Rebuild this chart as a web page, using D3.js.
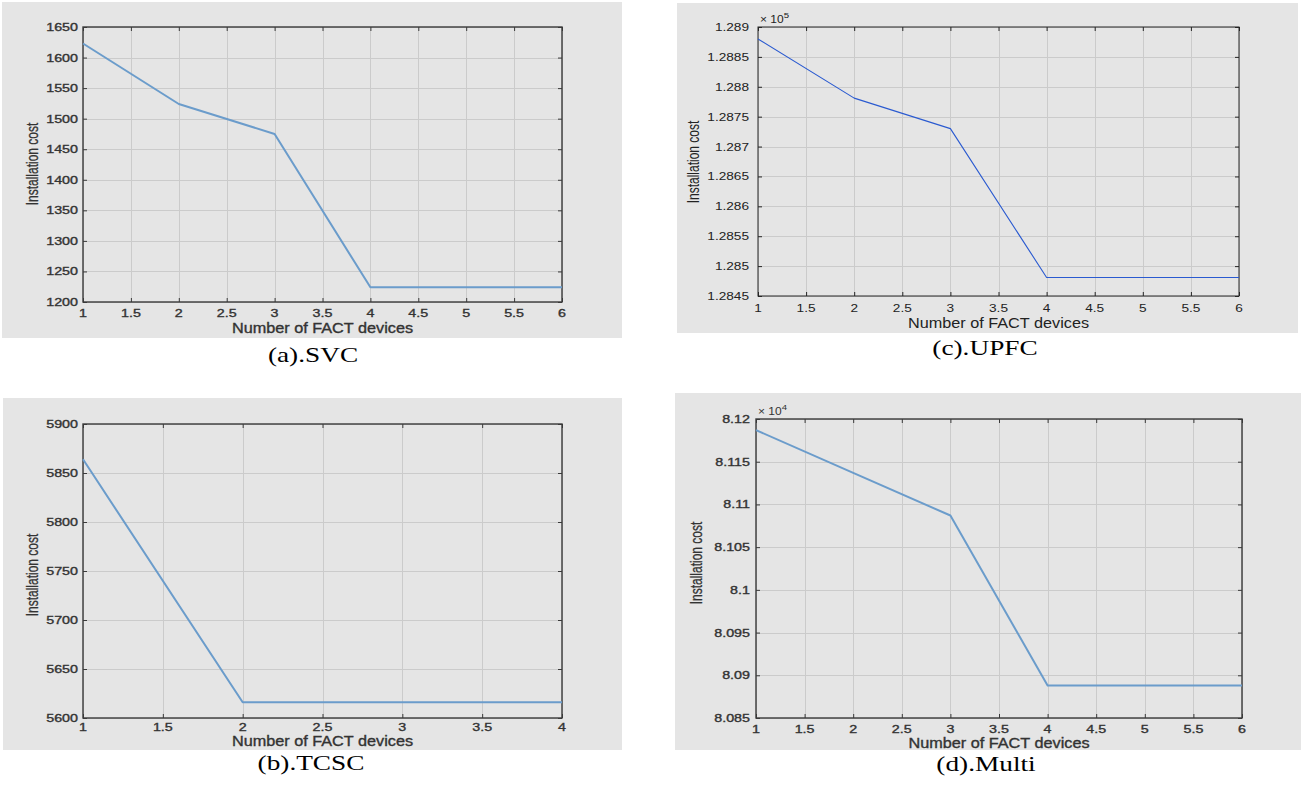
<!DOCTYPE html>
<html>
<head>
<meta charset="utf-8">
<script src="https://cdn.jsdelivr.net/npm/d3@7"></script>
<style>
  html, body { margin: 0; padding: 0; background: #ffffff; }
  svg { display: block; }
</style>
</head>
<body>
<svg id="chart" width="1302" height="791"></svg>
<script>
// ---------------- DATA ----------------
const devicesSix = [1, 2, 3, 4, 5, 6];
const devicesFour = [1, 2, 3, 4];

const svcCost   = [1623, 1524, 1475, 1224, 1224, 1224];
const tcscCost  = [5864, 5616, 5616, 5616];
const upfcCost  = [128880, 128781, 128730, 128481, 128481, 128481];
const multiCost = [81187, 81137, 81087, 80888, 80888, 80888];

const xTicksSix  = [1, 1.5, 2, 2.5, 3, 3.5, 4, 4.5, 5, 5.5, 6];
const xTicksFour = [1, 1.5, 2, 2.5, 3, 3.5, 4];

const svcYTicks   = [1200, 1250, 1300, 1350, 1400, 1450, 1500, 1550, 1600, 1650];
const tcscYTicks  = [5600, 5650, 5700, 5750, 5800, 5850, 5900];
const upfcYTickLabels  = ["1.2845", "1.285", "1.2855", "1.286", "1.2865", "1.287", "1.2875", "1.288", "1.2885", "1.289"];
const upfcYTicks  = [128450, 128500, 128550, 128600, 128650, 128700, 128750, 128800, 128850, 128900];
const multiYTickLabels = ["8.085", "8.09", "8.095", "8.1", "8.105", "8.11", "8.115", "8.12"];
const multiYTicks = [80850, 80900, 80950, 81000, 81050, 81100, 81150, 81200];

const captions = ["(a).SVC", "(b).TCSC", "(c).UPFC", "(d).Multi"];
const xTitle = "Number of FACT devices";
const yTitle = "Installation cost";

// ---------------- LAYOUT ----------------
const panels = [
  { x: devicesSix, y: svcCost, xTicks: xTicksSix, yTicks: svcYTicks, yLabels: svcYTicks.map(String),
    bg: [2, 2, 622, 338], plot: [83, 27, 562, 302], exp: null, caption: captions[0],
    capX: 313, capY: 362, yGap: 5, xLabY: 317, xTitleY: 333, yTitleX: 38, yTitleY: 164,
    lineColor: "#6b9ccb", lineW: 2, axisColor: "#3a3a3a", axisW: 1.4, textColor: "#333", crisp: false },
  { x: devicesFour, y: tcscCost, xTicks: xTicksFour, yTicks: tcscYTicks, yLabels: tcscYTicks.map(String),
    bg: [3, 398, 622, 750], plot: [83, 424, 562, 718], exp: null, caption: captions[1],
    capX: 311, capY: 770, yGap: 5, xLabY: 731, xTitleY: 746, yTitleX: 38, yTitleY: 575,
    lineColor: "#6b9ccb", lineW: 2, axisColor: "#3a3a3a", axisW: 1.4, textColor: "#333", crisp: false },
  { x: devicesSix, y: upfcCost, xTicks: xTicksSix, yTicks: upfcYTicks, yLabels: upfcYTickLabels,
    bg: [677, 3, 1298, 333], plot: [758, 27, 1239, 296], exp: "5", caption: captions[2],
    capX: 985, capY: 355, yGap: 9, xLabY: 312, xTitleY: 328, yTitleX: 699, yTitleY: 162,
    lineColor: "#2a5ad0", lineW: 1.1, axisColor: "#262626", axisW: 1, textColor: "#222", crisp: true },
  { x: devicesSix, y: multiCost, xTicks: xTicksSix, yTicks: multiYTicks, yLabels: multiYTickLabels,
    bg: [675, 393, 1301, 750], plot: [756, 419, 1242, 718], exp: "4", caption: captions[3],
    capX: 986, capY: 771, yGap: 6, xLabY: 733, xTitleY: 748, yTitleX: 702, yTitleY: 563,
    lineColor: "#6b9ccb", lineW: 2, axisColor: "#3a3a3a", axisW: 1.4, textColor: "#333", crisp: false }
];

const svg = d3.select("#chart");
const SANS = "'Liberation Sans', Arial, sans-serif";
const SERIF = "'Liberation Serif', 'Times New Roman', serif";

function stretchedText(g, x, y, str, opt) {
  const t = g.append("text")
    .attr("transform", `translate(${x},${y}) scale(${opt.sx || 1},1)` + (opt.rotate ? ` rotate(${opt.rotate})` : ""))
    .attr("text-anchor", opt.anchor || "start")
    .attr("font-family", opt.family || SANS)
    .attr("font-size", opt.size)
    .attr("fill", opt.fill || "#333")
    .text(str);
  if (opt.heavy) t.attr("stroke", opt.fill || "#333").attr("stroke-width", opt.heavy);
  return t;
}

panels.forEach(p => {
  const g = svg.append("g");
  const [bx0, by0, bx1, by1] = p.bg;
  const [L, T, R, B] = p.plot;

  g.append("rect").attr("x", bx0).attr("y", by0).attr("width", bx1 - bx0).attr("height", by1 - by0)
    .attr("fill", "#e5e5e5");

  const xs = d3.scaleLinear().domain([p.xTicks[0], p.xTicks[p.xTicks.length - 1]]).range([L, R]);
  const ys = d3.scaleLinear().domain([p.yTicks[0], p.yTicks[p.yTicks.length - 1]]).range([B, T]);

  // grid
  const grid = g.append("g").attr("stroke", "#cbcbcb").attr("stroke-width", 1);
  p.xTicks.forEach(v => {
    grid.append("line").attr("x1", Math.round(xs(v)) + 0.5).attr("x2", Math.round(xs(v)) + 0.5)
      .attr("y1", T).attr("y2", B);
  });
  p.yTicks.forEach(v => {
    grid.append("line").attr("y1", Math.round(ys(v)) + 0.5).attr("y2", Math.round(ys(v)) + 0.5)
      .attr("x1", L).attr("x2", R);
  });

  // axes via d3 (ticks inward on all four sides)
  const tl = 4;
  const axB = d3.axisBottom(xs).tickValues(p.xTicks).tickSize(-tl).tickFormat("");
  const axT = d3.axisTop(xs).tickValues(p.xTicks).tickSize(-tl).tickFormat("");
  const axL = d3.axisLeft(ys).tickValues(p.yTicks).tickSize(-tl).tickFormat("");
  const axR = d3.axisRight(ys).tickValues(p.yTicks).tickSize(-tl).tickFormat("");
  [[axB, `translate(0,${B})`], [axT, `translate(0,${T})`], [axL, `translate(${L},0)`], [axR, `translate(${R},0)`]]
    .forEach(([ax, tr]) => {
      const a = g.append("g").attr("transform", tr).call(ax);
      a.select(".domain").remove();
      a.selectAll("line").attr("stroke", p.axisColor).attr("stroke-width", 1);
    });

  // box
  g.append("rect").attr("x", L).attr("y", T).attr("width", R - L).attr("height", B - T)
    .attr("fill", "none").attr("stroke", p.axisColor).attr("stroke-width", p.axisW);

  // line
  const line = d3.line().x((d, i) => xs(p.x[i])).y(d => ys(d));
  g.append("path").datum(p.y).attr("d", line).attr("fill", "none")
    .attr("stroke", p.lineColor).attr("stroke-width", p.lineW).attr("stroke-linejoin", "round");

  // tick labels
  const tickSize = p.crisp ? 10.5 : 11;
  const heavy = p.crisp ? 0 : 0.35;
  p.xTicks.forEach(v => {
    stretchedText(g, xs(v), p.xLabY, String(v), { size: tickSize, sx: 1.3, anchor: "middle", fill: p.textColor, heavy });
  });
  p.yTicks.forEach((v, i) => {
    stretchedText(g, L - p.yGap, ys(v) + 4, p.yLabels[i], { size: tickSize, sx: 1.3, anchor: "end", fill: p.textColor, heavy });
  });

  // exponent
  if (p.exp) {
    const e = stretchedText(g, L + 2, T - 4, "", { size: 10, sx: 1.2, anchor: "start", fill: p.textColor });
    e.append("tspan").text("\u00d7 10");
    e.append("tspan").attr("dy", -5).attr("font-size", 8).text(p.exp);
  }

  // axis titles
  stretchedText(g, (L + R) / 2, p.xTitleY, xTitle, { size: 14, sx: 1.16, anchor: "middle", fill: p.textColor, heavy });
  stretchedText(g, p.yTitleX, p.yTitleY, yTitle, { size: 12, sx: 1.3, rotate: -90, anchor: "middle", fill: p.textColor, heavy: heavy * 0.6 });

  // caption
  stretchedText(svg, p.capX, p.capY, p.caption, { size: 21, sx: 1.3, anchor: "middle", family: SERIF, fill: "#000" });
});
</script>
</body>
</html>
